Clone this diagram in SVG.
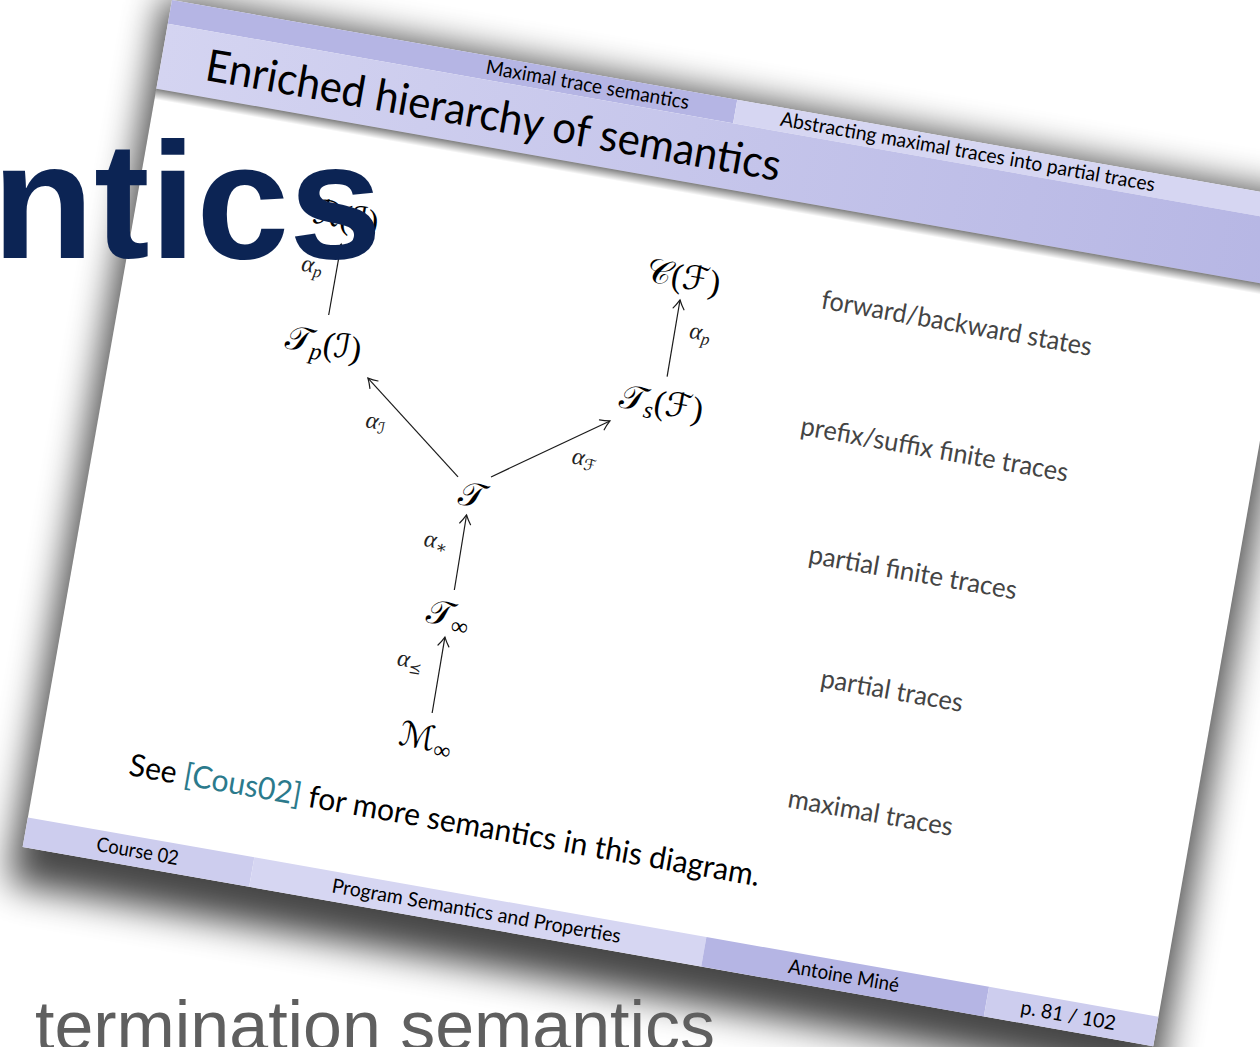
<svg xmlns="http://www.w3.org/2000/svg" width="1260" height="1047" viewBox="0 0 1260 1047">
<defs>
<filter id="blur" x="-15%" y="-15%" width="130%" height="135%"><feGaussianBlur stdDeviation="18"/></filter>
<linearGradient id="titlebar" x1="0" y1="0" x2="1" y2="0">
<stop offset="0" stop-color="#d4d4f1"/><stop offset="1" stop-color="#b6b6e4"/>
</linearGradient>
<linearGradient id="hshadow" x1="0" y1="0" x2="0" y2="1">
<stop offset="0" stop-color="#000" stop-opacity="0.5"/><stop offset="1" stop-color="#000" stop-opacity="0"/>
</linearGradient>
<marker id="arr" markerUnits="userSpaceOnUse" markerWidth="14" markerHeight="14" viewBox="-11 -7 13 14" refX="0" refY="0" orient="auto">
<path d="M-9,-5.5 C-5,-2.5 -2,-1 0,0 C-2,1 -5,2.5 -9,5.5" fill="none" stroke="#1a1a1a" stroke-width="1.2" stroke-linecap="round"/>
</marker>
<style>
.sf{font-family:Lato,'Liberation Sans',sans-serif;}
.bar{font-size:20px;fill:#000;}
.m{font-family:'Liberation Serif','DejaVu Serif',serif;font-size:34px;fill:#000;text-anchor:middle;}
.lab{font-family:'Liberation Serif','DejaVu Serif',serif;font-size:24px;fill:#222;text-anchor:middle;}
.rl{font-size:26.5px;fill:#444;text-anchor:middle;}
.edge{stroke:#1a1a1a;stroke-width:1.2;fill:none;marker-end:url(#arr);}
.it{font-style:italic;}
.cal{font-family:'DejaVu Sans','DejaVu Serif',serif;}
</style>
</defs>
<rect width="1260" height="1047" fill="#fff"/>
<g id="slide" transform="translate(172,0) rotate(10)">
 <rect x="-8" y="-2" width="1166" height="900" fill="#000" opacity="0.72" filter="url(#blur)"/>
 <rect x="0" y="0" width="1148" height="860" fill="#fff"/>
 <g id="header">
  <rect x="0" y="0" width="574" height="24" fill="#b5b5e4"/>
  <rect x="574" y="0" width="574" height="24" fill="#d6d6f2"/>
  <rect x="0" y="24" width="1148" height="66" fill="url(#titlebar)"/>
  <rect x="0" y="90" width="1148" height="11" fill="url(#hshadow)"/>
  <text class="sf bar" x="321" y="18" textLength="206" lengthAdjust="spacingAndGlyphs">Maximal trace semantics</text>
  <text class="sf bar" x="620" y="18" textLength="380" lengthAdjust="spacingAndGlyphs">Abstracting maximal traces into partial traces</text>
  <text class="sf" x="45" y="73" font-size="44" fill="#000" textLength="583" lengthAdjust="spacingAndGlyphs">Enriched hierarchy of semantics</text>
 </g>
 <g id="connectors">
  <line class="edge" x1="209" y1="283" x2="209" y2="211"/>
  <line class="edge" x1="364.5" y1="420" x2="258.6" y2="338.3"/>
  <line class="edge" x1="397" y1="414.3" x2="504.4" y2="338.5"/>
  <line class="edge" x1="553" y1="285" x2="552.4" y2="207.2"/>
  <line class="edge" x1="380.5" y1="532" x2="379.5" y2="456"/>
  <line class="edge" x1="380" y1="657" x2="379.4" y2="580"/>
 </g>
 <g id="edge-labels">
  <text class="lab" x="184" y="244"><tspan class="it">α</tspan><tspan class="it" font-size="17" dy="4">p</tspan></text>
  <text class="lab" x="274" y="387"><tspan class="it">α</tspan><tspan class="cal" font-size="16" dy="4">ℐ</tspan></text>
  <text class="lab" x="486" y="387"><tspan class="it">α</tspan><tspan class="cal" font-size="16" dy="4">ℱ</tspan></text>
  <text class="lab" x="578" y="243"><tspan class="it">α</tspan><tspan class="it" font-size="17" dy="4">p</tspan></text>
  <text class="lab" x="354" y="494"><tspan class="it">α</tspan><tspan font-size="17" dy="4">∗</tspan></text>
  <text class="lab" x="349" y="616"><tspan class="it">α</tspan><tspan font-family="'DejaVu Sans',sans-serif" font-size="15" dy="5">⪯</tspan></text>
 </g>
 <g id="node-R-I"><text class="m" x="209" y="195"><tspan class="cal">ℛ</tspan>(<tspan class="cal">ℐ</tspan>)</text></g>
 <g id="node-Tp-I"><text class="m" x="209" y="323">𝒯<tspan class="it" font-size="24" dy="6">p</tspan><tspan dy="-6">(</tspan><tspan class="cal">ℐ</tspan>)</text></g>
 <g id="node-C-F"><text class="m" x="552" y="195">𝒞(<tspan class="cal">ℱ</tspan>)</text></g>
 <g id="node-Ts-F"><text class="m" x="552" y="323">𝒯<tspan class="it" font-size="24" dy="6">s</tspan><tspan dy="-6">(</tspan><tspan class="cal">ℱ</tspan>)</text></g>
 <g id="node-T"><text class="m" x="381" y="447">𝒯</text></g>
 <g id="node-Tinf"><text class="m" x="379" y="569">𝒯<tspan font-size="24" dy="6">∞</tspan></text></g>
 <g id="node-Minf"><text class="m" x="378" y="694"><tspan class="cal">ℳ</tspan><tspan font-size="24" dy="6">∞</tspan></text></g>
 <g id="levels">
  <text class="sf rl" x="829" y="191" textLength="274" lengthAdjust="spacingAndGlyphs">forward/backward states</text>
  <text class="sf rl" x="829" y="319" textLength="271" lengthAdjust="spacingAndGlyphs">prefix/suffix finite traces</text>
  <text class="sf rl" x="829" y="444" textLength="211" lengthAdjust="spacingAndGlyphs">partial finite traces</text>
  <text class="sf rl" x="829" y="564" textLength="144" lengthAdjust="spacingAndGlyphs">partial traces</text>
  <text class="sf rl" x="829" y="688" textLength="167" lengthAdjust="spacingAndGlyphs">maximal traces</text>
 </g>
 <text class="sf" x="91" y="771" font-size="31" fill="#000" textLength="640" lengthAdjust="spacingAndGlyphs">See <tspan fill="#2b7a8c">[Cous02]</tspan> for more semantics in this diagram.</text>
 <g id="footer">
  <rect x="0" y="830" width="230" height="30" fill="#cdcdee"/>
  <rect x="230" y="830" width="459" height="30" fill="#d6d6f2"/>
  <rect x="689" y="830" width="287" height="30" fill="#b5b5e4"/>
  <rect x="976" y="830" width="172" height="30" fill="#cdcdee"/>
  <text class="sf bar" x="114" y="851" text-anchor="middle" textLength="83" lengthAdjust="spacingAndGlyphs">Course 02</text>
  <text class="sf bar" x="458" y="851" text-anchor="middle" textLength="293" lengthAdjust="spacingAndGlyphs">Program Semantics and Properties</text>
  <text class="sf bar" x="831" y="851" text-anchor="middle" textLength="112" lengthAdjust="spacingAndGlyphs">Antoine Miné</text>
  <text class="sf bar" x="1059" y="851" text-anchor="middle" textLength="96" lengthAdjust="spacingAndGlyphs">p. 81 / 102</text>
 </g>
</g>
<text x="-8" y="258" font-family="'Liberation Sans',Arial,sans-serif" font-weight="bold" font-size="166" fill="#0c2454" textLength="390" lengthAdjust="spacingAndGlyphs">ntics</text>
<text x="35" y="1050" font-family="'Liberation Sans',Arial,sans-serif" font-size="70" fill="#5f5f5f" textLength="680" lengthAdjust="spacingAndGlyphs">termination semantics</text>
</svg>
